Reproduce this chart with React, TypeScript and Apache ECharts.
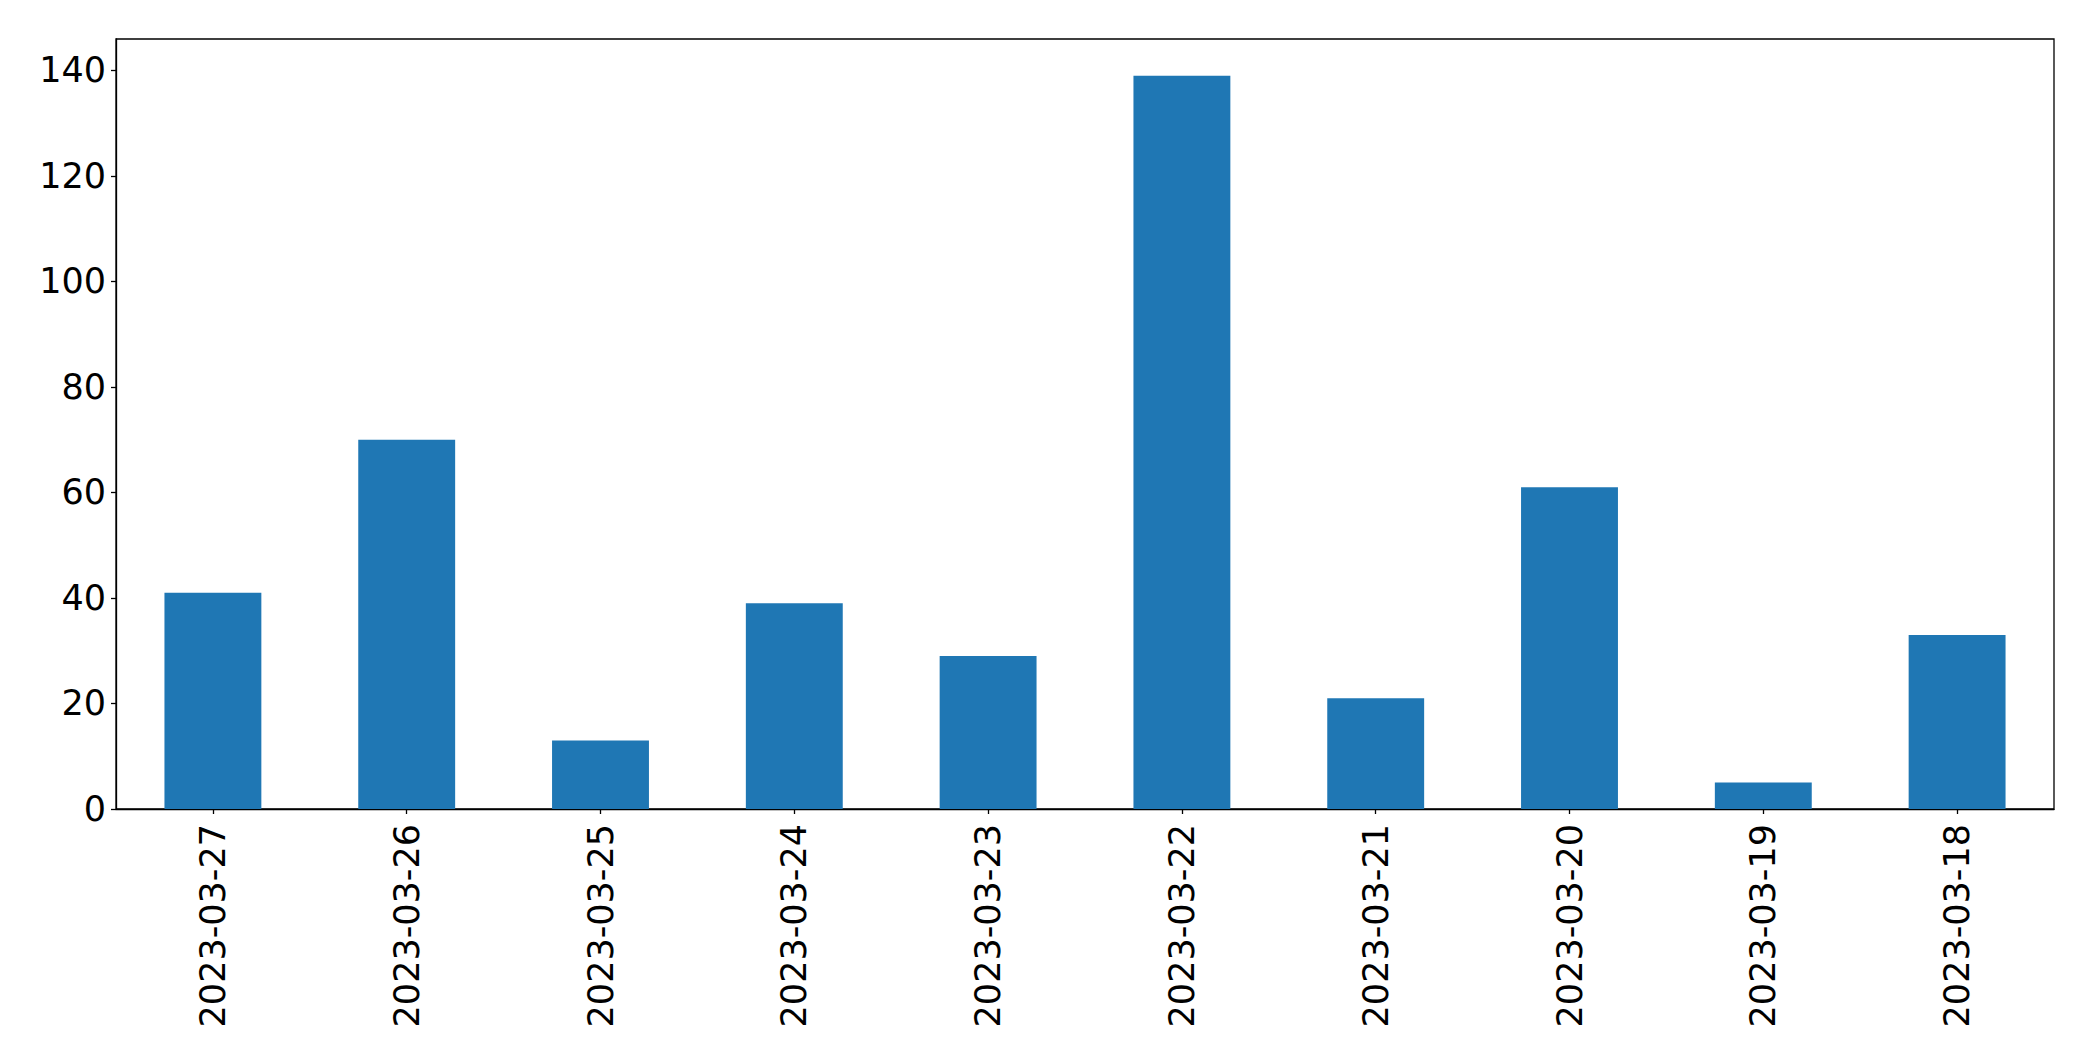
import React, { useEffect, useRef } from "react";
import * as echarts from "echarts";

const categories = [
  "2023-03-27",
  "2023-03-26",
  "2023-03-25",
  "2023-03-24",
  "2023-03-23",
  "2023-03-22",
  "2023-03-21",
  "2023-03-20",
  "2023-03-19",
  "2023-03-18",
];
const values = [41, 70, 13, 39, 29, 139, 21, 61, 5, 33];
const yMax = 145.95;
const yInterval = 20;

export default function App() {
  const ref = useRef<HTMLDivElement>(null);
  useEffect(() => {
    if (!ref.current) return;
    const chart = echarts.init(ref.current, null, { renderer: "svg" });
    const font = "DejaVu Sans";
    chart.setOption({
      animation: false,
      backgroundColor: "#ffffff",
      grid: {
        left: 116,
        top: 39,
        right: 39,
        bottom: 252,
        show: true,
        borderColor: "#000000",
        borderWidth: 1.3,
        backgroundColor: "transparent",
      },
      xAxis: {
        type: "category",
        data: categories,
        axisLine: { show: true, lineStyle: { color: "#000000", width: 1.3 } },
        axisTick: { show: true, alignWithLabel: true, length: 5, lineStyle: { color: "#000000", width: 1.3 } },
        axisLabel: {
          rotate: 90,
          margin: 15,
          fontFamily: font,
          fontSize: 35,
          color: "#000000",
          interval: 0,
        },
        splitLine: { show: false },
      },
      yAxis: {
        type: "value",
        min: 0,
        max: yMax,
        interval: yInterval,
        axisLine: { show: true, lineStyle: { color: "#000000", width: 1.3 } },
        axisTick: { show: true, length: 5, lineStyle: { color: "#000000", width: 1.3 } },
        axisLabel: {
          margin: 10,
          fontFamily: font,
          fontSize: 35,
          color: "#000000",
          showMaxLabel: false,
        },
        splitLine: { show: false },
      },
      series: [
        {
          type: "bar",
          data: values,
          barWidth: "50%",
          itemStyle: { color: "#1f77b4" },
        },
      ],
    });
    return () => chart.dispose();
  }, []);
  return (
    <div
      ref={ref}
      style={{ position: "absolute", left: 0, top: 0, width: 2093, height: 1061 }}
    />
  );
}
